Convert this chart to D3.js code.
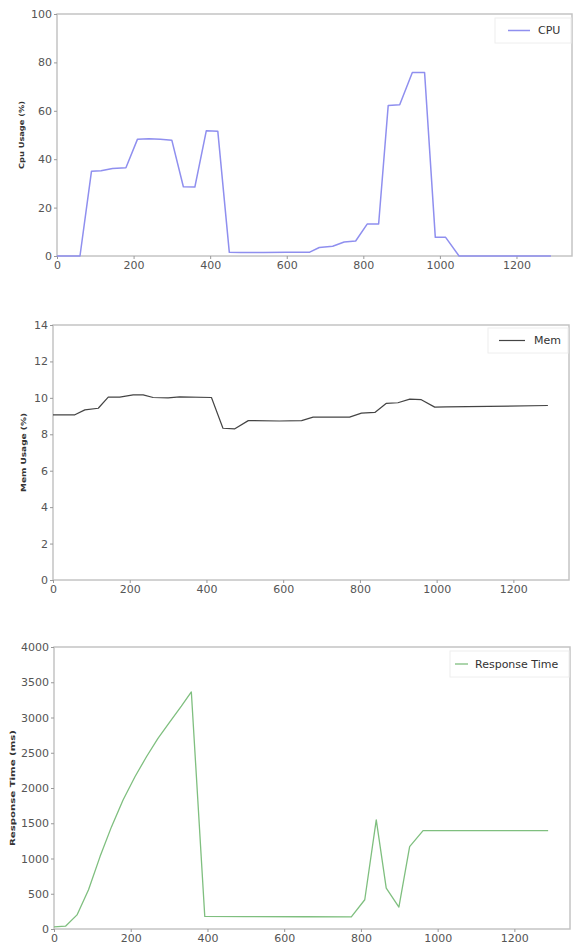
<!DOCTYPE html>
<html>
<head>
<meta charset="utf-8">
<script src="https://cdn.jsdelivr.net/npm/d3@7"></script>
<style>
  body { margin: 0; background: #fff; }
  text { font-family: "DejaVu Sans", sans-serif; }
</style>
</head>
<body>
<svg id="chart" width="573" height="947"></svg>
<script>
// CPU usage (%) over time (s)
var cpuTime  = [0, 60, 90, 115, 145, 180, 210, 240, 270, 300, 330, 360, 390, 420, 450, 480, 540, 600, 660, 685, 720, 750, 780, 810, 840, 865, 895, 928, 960, 988, 1015, 1050, 1290];
var cpuValue = [0, 0, 35, 35.2, 36.2, 36.5, 48.2, 48.5, 48.2, 47.8, 28.6, 28.5, 51.8, 51.5, 1.5, 1.4, 1.4, 1.5, 1.6, 3.5, 4, 5.8, 6.2, 13.2, 13.2, 62.2, 62.5, 75.8, 75.8, 7.7, 7.7, 0, 0];

// Memory usage (%) over time (s)
var memTime  = [0, 57, 83, 118, 144, 174, 209, 235, 261, 300, 330, 413, 443, 474, 509, 590, 648, 678, 773, 804, 839, 869, 899, 930, 960, 995, 1025, 1290];
var memValue = [9.07, 9.07, 9.34, 9.43, 10.04, 10.04, 10.16, 10.16, 10.02, 10.0, 10.05, 10.02, 8.33, 8.3, 8.75, 8.73, 8.75, 8.94, 8.94, 9.16, 9.2, 9.7, 9.73, 9.93, 9.9, 9.49, 9.5, 9.58];

// Response time (ms) over time (s)
var rtTime  = [0, 30, 60, 90, 120, 150, 180, 211, 241, 271, 302, 332, 358, 393, 500, 650, 775, 810, 840, 866, 899, 927, 962, 1100, 1288];
var rtValue = [30, 40, 200, 556, 1027, 1452, 1830, 2160, 2443, 2703, 2938, 3160, 3362, 178, 176, 174, 172, 415, 1547, 580, 311, 1169, 1396, 1396, 1396];

var xTicks = [0, 200, 400, 600, 800, 1000, 1200];

var panels = [
  { time: cpuTime, values: cpuValue, name: "CPU", ylabel: "Cpu Usage (%)", color: "#8f8fef", width: 1.5,
    ymax: 100, yticks: [0, 20, 40, 60, 80, 100],
    left: 57, right: 572, top: 14, bottom: 256, labelX: 22, labelLen: 68,
    legend: { x: 495, y: 18, w: 76, h: 25, l1: 508, l2: 530, tx: 538 } },
  { time: memTime, values: memValue, name: "Mem", ylabel: "Mem Usage (%)", color: "#444444", width: 1.2,
    ymax: 14, yticks: [0, 2, 4, 6, 8, 10, 12, 14],
    left: 53, right: 569, top: 325, bottom: 580, labelX: 24, labelLen: 79,
    legend: { x: 488, y: 328, w: 80, h: 25, l1: 499, l2: 525, tx: 534 } },
  { time: rtTime, values: rtValue, name: "Response Time", ylabel: "Response Time (ms)", color: "#7fbf7f", width: 1.3,
    ymax: 4000, yticks: [0, 500, 1000, 1500, 2000, 2500, 3000, 3500, 4000],
    left: 54, right: 570, top: 647, bottom: 929, labelX: 13, labelLen: 116,
    legend: { x: 450, y: 651, w: 119, h: 26, l1: 455, l2: 468, tx: 475 } }
];

var svg = d3.select("#chart");

panels.forEach(function(p) {
  var xScale = d3.scaleLinear().domain([0, 1345]).range([p.left, p.right]);
  var yScale = d3.scaleLinear().domain([0, p.ymax]).range([p.bottom, p.top]);
  var g = svg.append("g");

  // Frame
  g.append("rect")
    .attr("x", p.left)
    .attr("y", p.top)
    .attr("width", p.right - p.left)
    .attr("height", p.bottom - p.top)
    .style("fill", "none")
    .style("stroke", "#c4c4c4")
    .style("stroke-width", "1.5px");

  // Axes
  var xAxis = g.append("g")
    .attr("transform", "translate(0," + p.bottom + ")")
    .call(d3.axisBottom(xScale).tickValues(xTicks).tickSize(3).tickPadding(2).tickFormat(d3.format("d")));
  var yAxis = g.append("g")
    .attr("transform", "translate(" + p.left + ",0)")
    .call(d3.axisLeft(yScale).tickValues(p.yticks).tickSize(3).tickPadding(2).tickFormat(d3.format("d")));

  [xAxis, yAxis].forEach(function(ax) {
    ax.select(".domain").remove();
    ax.selectAll("line").style("stroke", "#999");
    ax.selectAll("text")
      .style("font-size", "11px")
      .style("fill", "#555");
  });

  // Y label (narrow glyphs, as in the squeezed original)
  g.append("text")
    .attr("transform", "translate(" + p.labelX + "," + ((p.top + p.bottom) / 2) + ") rotate(-90)")
    .attr("text-anchor", "middle")
    .attr("dy", "0.35em")
    .attr("textLength", p.labelLen)
    .attr("lengthAdjust", "spacingAndGlyphs")
    .style("font-size", "7px")
    .style("font-weight", "bold")
    .style("fill", "#333")
    .text(p.ylabel);

  // Series line
  var line = d3.line()
    .x(function(d, i) { return xScale(p.time[i]); })
    .y(function(d) { return yScale(d); });
  g.append("path")
    .datum(p.values)
    .attr("d", line)
    .style("fill", "none")
    .style("stroke", p.color)
    .style("stroke-width", p.width + "px")
    .style("stroke-linejoin", "round");

  // Legend
  var lg = p.legend;
  g.append("rect")
    .attr("x", lg.x)
    .attr("y", lg.y)
    .attr("width", lg.w)
    .attr("height", lg.h)
    .style("fill", "#fff")
    .style("stroke", "#eeeeee")
    .style("stroke-width", "1px");
  g.append("line")
    .attr("x1", lg.l1)
    .attr("x2", lg.l2)
    .attr("y1", lg.y + lg.h / 2)
    .attr("y2", lg.y + lg.h / 2)
    .style("stroke", p.color)
    .style("stroke-width", p.width + "px");
  g.append("text")
    .attr("x", lg.tx)
    .attr("y", lg.y + lg.h / 2)
    .attr("dy", "0.35em")
    .style("font-size", "11px")
    .style("fill", "#333")
    .text(p.name);
});
</script>
</body>
</html>
